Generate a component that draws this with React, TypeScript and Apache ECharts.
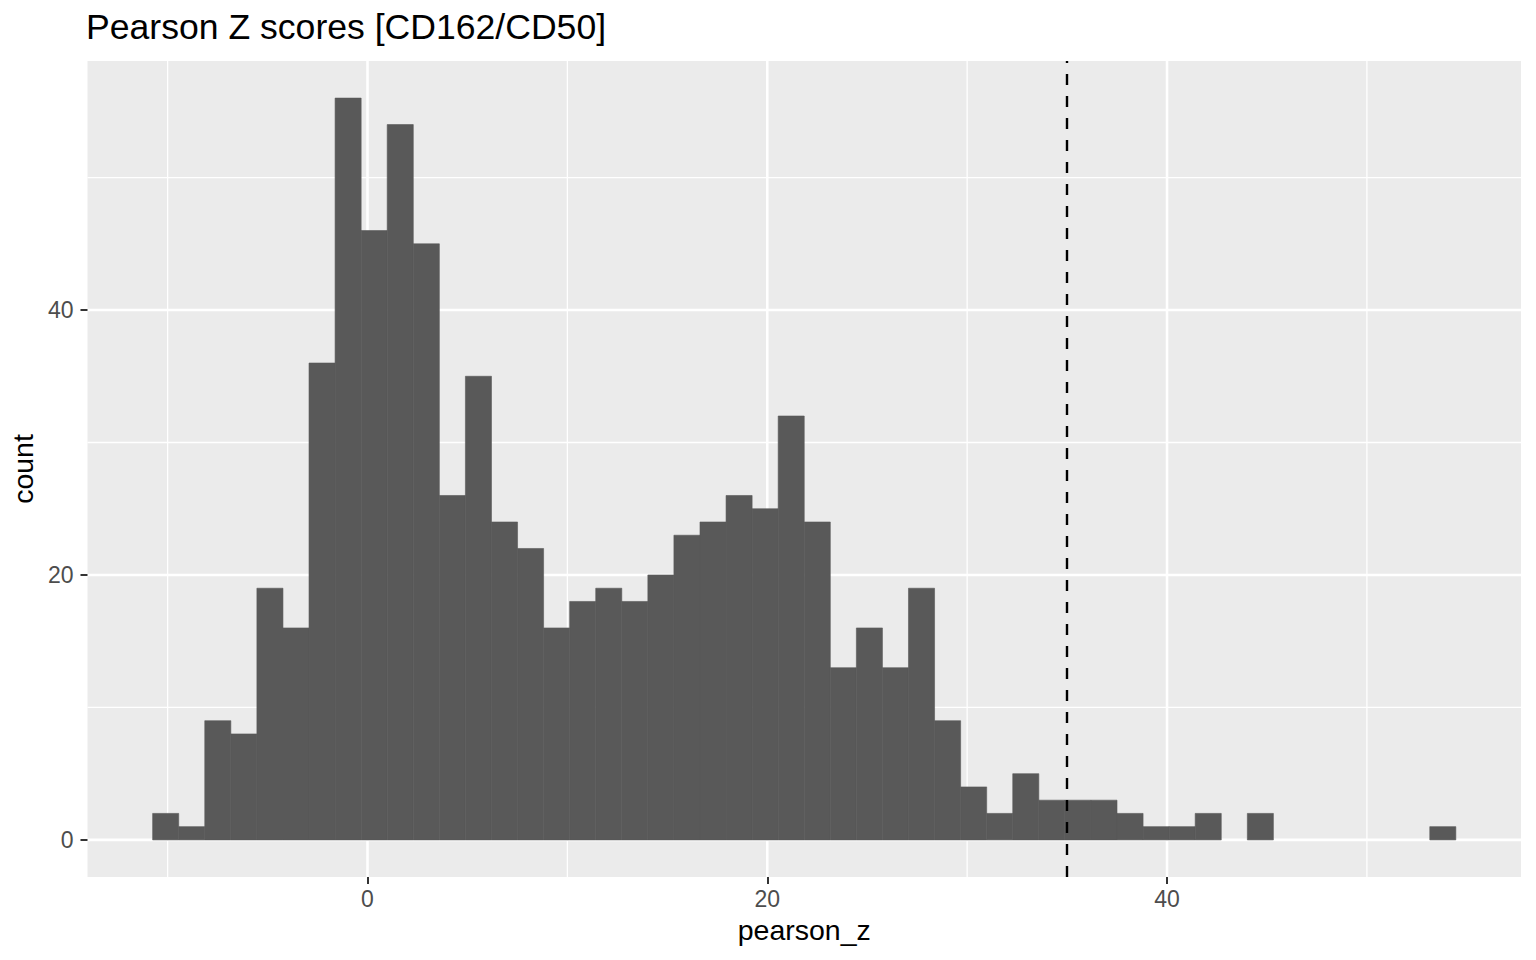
import React, { useEffect, useRef } from "react";
import * as echarts from "echarts";

const TITLE = "Pearson Z scores [CD162/CD50]";
const X_NAME = "pearson_z";
const Y_NAME = "count";

// histogram: 50 bins starting at BIN_MIN, each BIN_WIDTH wide
const BIN_MIN = -10.75;
const BIN_WIDTH = 1.304;
const COUNTS = [
  2, 1, 9, 8, 19, 16, 36, 56, 46, 54,
  45, 26, 35, 24, 22, 16, 18, 19, 18, 20,
  23, 24, 26, 25, 32, 24, 13, 16, 13, 19,
  9, 4, 2, 5, 3, 3, 3, 2, 1, 1,
  2, 0, 2, 0, 0, 0, 0, 0, 0, 1,
];
const THRESHOLD = 35;

const X_MAJOR = [0, 20, 40];
const X_MINOR = [-10, 10, 30, 50];
const Y_MAJOR = [0, 20, 40];
const Y_MINOR = [10, 30, 50];
const X_RANGE = [-14.01, 57.71];
const Y_RANGE = [-2.8, 58.8];

const FONT = "Liberation Sans, Arial, sans-serif";

function gridSeries(vals: number[], dir: "v" | "h", width: number) {
  return {
    type: "custom",
    silent: true,
    z: 0,
    clip: false,
    data: vals.map((v) => (dir === "v" ? [v, 0] : [0, v])),
    renderItem: (params: any, api: any) => {
      const cs = params.coordSys;
      const p = api.coord([api.value(0), api.value(1)]);
      const shape =
        dir === "v"
          ? { x1: p[0], y1: cs.y, x2: p[0], y2: cs.y + cs.height }
          : { x1: cs.x, y1: p[1], x2: cs.x + cs.width, y2: p[1] };
      return { type: "line", shape, style: { stroke: "#FFFFFF", lineWidth: width } };
    },
  };
}

export default function App() {
  const ref = useRef<HTMLDivElement>(null);
  useEffect(() => {
    if (!ref.current) return;
    const chart = echarts.init(ref.current, undefined, { renderer: "svg" });
    const barData = COUNTS.map((c, i) => [BIN_MIN + i * BIN_WIDTH, c]);
    chart.setOption({
      animation: false,
      backgroundColor: "#FFFFFF",
      title: {
        text: TITLE,
        left: 86,
        top: 9,
        padding: 0,
        textStyle: { fontFamily: FONT, fontSize: 35.6, fontWeight: "normal", color: "#000000" },
      },
      grid: {
        left: 87,
        right: 15,
        top: 61,
        bottom: 83,
        show: true,
        backgroundColor: "#EBEBEB",
        borderWidth: 0,
      },
      xAxis: {
        type: "value",
        min: X_RANGE[0],
        max: X_RANGE[1],
        name: X_NAME,
        nameLocation: "middle",
        nameGap: 38,
        nameTextStyle: { fontFamily: FONT, fontSize: 28.5, color: "#000000" },
        axisLine: { show: false, onZero: false },
        axisTick: { show: true, customValues: X_MAJOR, length: 7, lineStyle: { color: "#333333", width: 2 } },
        axisLabel: { customValues: X_MAJOR, fontFamily: FONT, fontSize: 23, color: "#4D4D4D", margin: 10 },
        splitLine: { show: false },
      },
      yAxis: {
        type: "value",
        min: Y_RANGE[0],
        max: Y_RANGE[1],
        name: Y_NAME,
        nameLocation: "middle",
        nameRotate: 90,
        nameGap: 48,
        nameTextStyle: { fontFamily: FONT, fontSize: 28.5, color: "#000000" },
        axisLine: { show: false, onZero: false },
        axisTick: { show: true, customValues: Y_MAJOR, length: 7, lineStyle: { color: "#333333", width: 2 } },
        axisLabel: { customValues: Y_MAJOR, fontFamily: FONT, fontSize: 23, color: "#4D4D4D", margin: 14 },
        splitLine: { show: false },
      },
      series: [
        gridSeries(X_MINOR, "v", 1.3),
        gridSeries(Y_MINOR, "h", 1.3),
        gridSeries(X_MAJOR, "v", 2.6),
        gridSeries(Y_MAJOR, "h", 2.6),
        {
          type: "custom",
          z: 2,
          silent: true,
          data: barData,
          renderItem: (params: any, api: any) => {
            const start = api.value(0);
            const count = api.value(1);
            if (!count) return null;
            const p0 = api.coord([start, 0]);
            const p1 = api.coord([start + BIN_WIDTH, count]);
            return {
              type: "rect",
              shape: { x: p0[0], y: p1[1], width: p1[0] - p0[0], height: p0[1] - p1[1] },
              style: { fill: "#595959", stroke: "#595959", lineWidth: 0.6 },
            };
          },
          markLine: {
            silent: true,
            symbol: "none",
            label: { show: false },
            lineStyle: { color: "#000000", width: 2.4, type: [11, 11] },
            data: [{ xAxis: THRESHOLD }],
          },
        },
      ],
    });
    return () => chart.dispose();
  }, []);
  return (
    <div
      ref={ref}
      style={{ position: "fixed", left: 0, top: 0, width: 1536, height: 960, background: "#FFFFFF" }}
    />
  );
}
